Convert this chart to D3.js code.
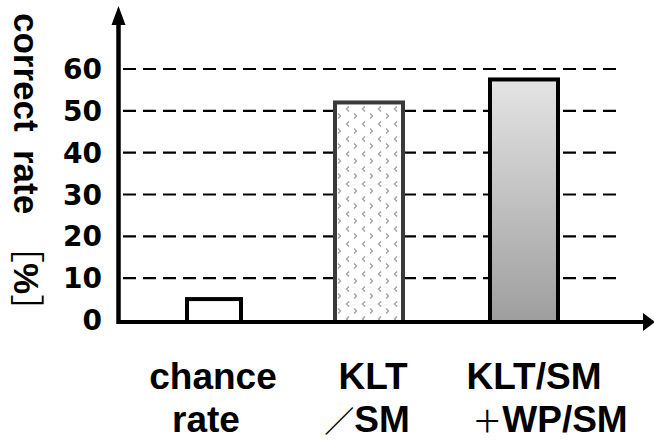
<!DOCTYPE html>
<html><head><meta charset="utf-8">
<script src="https://cdn.jsdelivr.net/npm/d3@7"></script>
<style>body{margin:0;background:#fff;}svg{display:block;}</style>
</head><body>
<script>
const categories = ["chance rate", "KLT / SM", "KLT/SM + WP/SM"];
const values = [5, 52, 57.5];
const labelLine1 = ["chance", "KLT", "KLT/SM"];
const labelLine2 = ["rate", "／SM", "＋WP/SM"];
const yTicks = [0, 10, 20, 30, 40, 50, 60];
const yTitleParts = ["correct", "rate", "［%］"];

const W = 654, H = 441;
const font = "'Liberation Sans', Arial, 'Noto Sans CJK JP', sans-serif";
const tickFont = "'DejaVu Sans', sans-serif";
const cjkFont = "'Noto Sans CJK JP', sans-serif";
const isFull = ch => ch.charCodeAt(0) >= 0x3000;

const svg = d3.select("body").append("svg").attr("width", W).attr("height", H);
const defs = svg.append("defs");

// pattern
const pat = defs.append("pattern").attr("id", "chev").attr("patternUnits", "userSpaceOnUse")
  .attr("width", 16).attr("height", 15).attr("x", 328).attr("y", 104);
pat.append("rect").attr("width", 16).attr("height", 15).attr("fill", "#fff");
pat.append("path").attr("d", "M5,2.5 L2.5,5 L5,7.5").attr("fill", "none").attr("stroke", "#a0a0a0").attr("stroke-width", 1.3);
pat.append("path").attr("d", "M10,9.5 L12.5,12 L10,14.5").attr("fill", "none").attr("stroke", "#a0a0a0").attr("stroke-width", 1.3);

const grad = defs.append("linearGradient").attr("id", "grd").attr("x1", 0).attr("y1", 0).attr("x2", 0).attr("y2", 1);
grad.append("stop").attr("offset", "0%").attr("stop-color", "#e4e4e4");
grad.append("stop").attr("offset", "100%").attr("stop-color", "#9e9e9e");

const y = d3.scaleLinear().domain([0, 60]).range([320, 69]);
const x = d3.scalePoint().domain(categories).range([214, 524]);
const barW = [58, 72, 72];
const fills = ["#fff", "url(#chev)", "url(#grd)"];
const strokes = ["#000", "#3a3a3a", "#000"];

// gridlines
svg.append("g").selectAll("line").data(yTicks.filter(d => d > 0)).join("line")
  .attr("x1", 123).attr("x2", 616)
  .attr("y1", d => y(d)).attr("y2", d => y(d))
  .attr("stroke", "#000").attr("stroke-width", 2.2).attr("stroke-dasharray", "13,7");

// bars
svg.append("g").selectAll("rect").data(categories).join("rect")
  .attr("x", (d, i) => x(d) - barW[i] / 2 + 2)
  .attr("y", (d, i) => y(values[i]))
  .attr("width", (d, i) => barW[i] - 4)
  .attr("height", (d, i) => y(0) - y(values[i]) + 2)
  .attr("fill", (d, i) => fills[i])
  .attr("stroke", (d, i) => strokes[i])
  .attr("stroke-width", 4);

// axes
svg.append("line").attr("x1", 118.5).attr("x2", 118.5).attr("y1", 324).attr("y2", 22)
  .attr("stroke", "#000").attr("stroke-width", 4.5);
svg.append("path").attr("d", "M118.5,6 L111.5,25 L125.5,25 Z").attr("fill", "#000");
svg.append("line").attr("x1", 117).attr("x2", 645).attr("y1", 322).attr("y2", 322)
  .attr("stroke", "#000").attr("stroke-width", 4);
svg.append("path").attr("d", "M655,322 L643,313 L643,331 Z").attr("fill", "#000");

// y tick labels
svg.append("g").selectAll("text").data(yTicks).join("text")
  .attr("x", 102).attr("y", d => y(d)).attr("dy", "0.36em")
  .attr("text-anchor", "end").attr("font-family", tickFont).attr("font-weight", "bold")
  .attr("font-size", 28).attr("fill", "#000").text(d => d);

// helper: write string as tspans, full-width chars in regular CJK (smaller)
function fillRich(sel, str, cjkSize) {
  const runs = [];
  for (const ch of str) {
    const f = isFull(ch);
    if (runs.length && runs[runs.length - 1].f === f) runs[runs.length - 1].t += ch;
    else runs.push({ t: ch, f });
  }
  sel.selectAll("tspan").data(runs).join("tspan")
    .attr("font-family", r => r.f ? cjkFont : font)
    .attr("font-weight", r => r.f ? "normal" : "bold")
    .attr("font-size", r => r.f && cjkSize ? cjkSize : null)
    .text(r => r.t);
}

// y title (rotated, reading top to bottom)
const titleStart = [13, 150, 228];
const tt = svg.append("g").attr("transform", "translate(14,0) rotate(90)");
tt.selectAll("text").data(yTitleParts).join("text")
  .attr("x", (d, i) => titleStart[i]).attr("y", 0)
  .attr("font-size", 35).attr("fill", "#000")
  .each(function(d) { fillRich(d3.select(this), d); });

// x labels
const off1 = [-1, 4, 10];
const off2 = [-8, -2, 26];
svg.append("g").selectAll("text").data(categories).join("text")
  .attr("x", (d, i) => x(d) + off1[i]).attr("y", 389)
  .attr("text-anchor", "middle").attr("font-size", 37).attr("fill", "#000")
  .each(function(d, i) { fillRich(d3.select(this), labelLine1[i], 30); });
svg.append("g").selectAll("text").data(categories).join("text")
  .attr("x", (d, i) => x(d) + off2[i]).attr("y", 432)
  .attr("text-anchor", "middle").attr("font-size", 37).attr("fill", "#000")
  .each(function(d, i) { fillRich(d3.select(this), labelLine2[i], 30); });
</script>
</body></html>
